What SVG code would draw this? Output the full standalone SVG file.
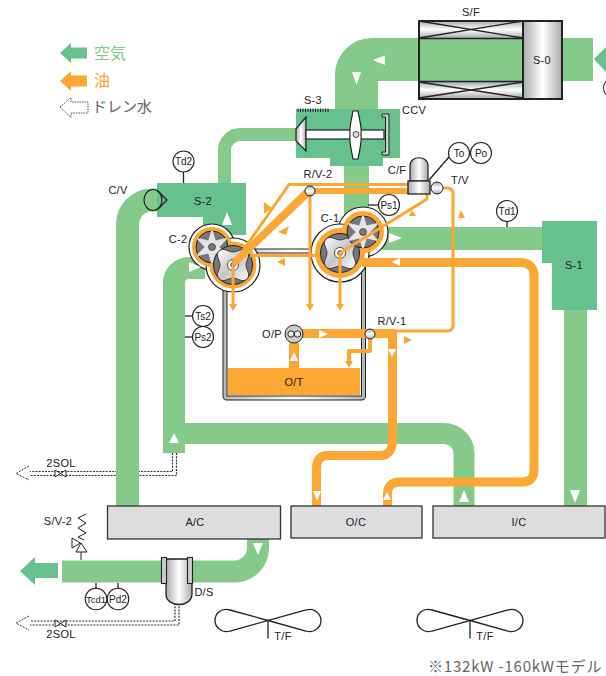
<svg xmlns="http://www.w3.org/2000/svg" width="606" height="676" viewBox="0 0 606 676">
<defs>
<linearGradient id="metal" x1="0" x2="1" y1="0" y2="0"><stop offset="0" stop-color="#a9abae"/><stop offset=".5" stop-color="#fff"/><stop offset="1" stop-color="#a9abae"/></linearGradient>
<linearGradient id="metalV" x1="0" x2="0" y1="0" y2="1"><stop offset="0" stop-color="#a9abae"/><stop offset=".5" stop-color="#fff"/><stop offset="1" stop-color="#a9abae"/></linearGradient>
<linearGradient id="metalD" x1="0" x2="1" y1="0" y2="1"><stop offset="0" stop-color="#fff"/><stop offset=".5" stop-color="#c4c5c7"/><stop offset="1" stop-color="#fff"/></linearGradient>
<linearGradient id="tankG" gradientUnits="userSpaceOnUse" x1="223" x2="366" y1="0" y2="0"><stop offset="0" stop-color="#b5b6b8"/><stop offset=".5" stop-color="#fff"/><stop offset="1" stop-color="#b5b6b8"/></linearGradient>
<g id="fan"><path d="M0 0L-38-10.500C-48-13-53-6-53 0C-53 7-46 13-38 10.500L38-10.500C46-13 53-7 53 0C53 7 46 13 38 10.500Z" class="ln"/><path d="M0 0V18" class="ln"/></g>
<g id="starRotor"><circle r="16" fill="#77787b" stroke="#222" stroke-width="1"/><path d="M0-15.500L3-5.200L13.400-7.750L6 0L13.400 7.750L3 5.200L0 15.500L-3 5.200L-13.400 7.750L-6 0L-13.400-7.750L-3-5.200Z" fill="#e4e5e6" stroke="#e4e5e6" stroke-width="2" stroke-linejoin="round"/><circle r="3.500" fill="#77787b" stroke="#222" stroke-width=".6"/></g>
<g id="lobeRotor"><circle r="19.500" fill="#77787b" stroke="#222" stroke-width="1"/><path d="M-14-14C-9-18-5-13 0-13C5-13 9-18 14-14C18-9 13-5 13 0C13 5 18 9 14 14C9 18 5 13 0 13C-5 13-9 18-14 14C-18 9-13 5-13 0C-13-5-18-9-14-14Z" fill="url(#metalD)" stroke="#222" stroke-width=".8"/><circle r="5.500" fill="#fff" stroke="#222" stroke-width=".8"/><circle r="2.500" fill="#999" stroke="#222" stroke-width=".6"/></g>
</defs>
<style>
.air{fill:none;stroke:#85c98b}
.oil{fill:none;stroke:#fca733}
.blk{fill:#66c18f}
.org{fill:#fca733}
.wht{fill:#fff}
.ln{fill:none;stroke:#222;stroke-width:1.300}
.box{fill:#dcddde;stroke:#333;stroke-width:1.300}
.gauge circle{fill:#fff;stroke:#222;stroke-width:1.100}
.gauge path{stroke:#222;stroke-width:1.300;fill:none}
.dr{fill:none;stroke:#333;stroke-width:1.200;stroke-dasharray:2 1.200}
text{font-family:"Liberation Sans",Arial,sans-serif;font-size:11px;fill:#222;text-anchor:middle;letter-spacing:.3px}
.g text{font-size:10px;letter-spacing:0}
.jp{font-family:"Noto Sans CJK JP","Liberation Sans",sans-serif;font-size:16px;text-anchor:start;letter-spacing:0}
</style>
<rect width="606" height="676" fill="#fff"/>

<g id="legend">
<path class="blk" d="M60 53L71 43V47.500H87V58.500H71V63Z"/>
<path class="org" d="M60 81L71 71V75.500H87V86.500H71V91Z"/>
<path d="M60 107L71 97.500V102H88V113H71V117.500Z" fill="#fff" stroke="#444" stroke-width=".9" stroke-dasharray="1.500 1"/>
<text class="jp" x="94" y="59" style="fill:#85c98b">空気</text>
<text class="jp" x="94" y="86" style="fill:#fca733">油</text>
<text class="jp" x="92" y="112" style="fill:#666;font-size:15px">ドレン水</text>
</g>

<g id="drains">
<path class="dr" d="M172.500 453V471.500H30M176.500 453V475.500H30"/>
<path class="dr" d="M175 603V621H30M179 603V625H30"/>
<path d="M29 466L16 473.500L29 480" fill="#fff" stroke="#333" stroke-width="1" stroke-dasharray="2 1.200"/>
<path d="M29 616L16 623L29 630" fill="#fff" stroke="#333" stroke-width="1" stroke-dasharray="2 1.200"/>
</g>

<g id="connectors-air" stroke-linejoin="round">
<path class="air" stroke-width="43" d="M418 59.500H372A15.500 15.500 0 0 0 356.500 75V120"/>
<path class="air" stroke-width="43" d="M562 59.500H593"/>
<path class="air" stroke-width="13" d="M300 134.500H240A15.500 15.500 0 0 0 224.500 150V190"/>
<path class="air" stroke-width="25" d="M356.500 160V235"/>
<path class="air" stroke-width="23" d="M160 200H152A24.500 24.500 0 0 0 127.500 224.500V506"/>
<path class="air" stroke-width="23" d="M350 238.500H550"/>
<path class="air" stroke-width="22" d="M205 268H189A15 15 0 0 0 174 283V452"/>
<path class="air" stroke-width="21" d="M175 433.500H444A20 20 0 0 1 464 453.500V506"/>
<path class="air" stroke-width="23" d="M575.500 305V506"/>
<path class="air" stroke-width="22" d="M258 538V548A23.500 23.500 0 0 1 234.500 571.500H62"/>
<rect x="163" y="423" width="22" height="30" fill="#85c98b"/>
</g>

<g id="S-3"><path class="blk" d="M296 109H400V158H383V166H330V158H296Z"/></g>
<g id="S-2"><path class="blk" d="M157 183H246V235H203V217H157Z"/></g>
<g id="S-1"><path class="blk" d="M542 221H597V310H552V263H542Z"/></g>
<path class="blk" d="M594 59L606 47V72Z"/>
<path class="blk" d="M20 571L35 557V563H58V578H35V585Z"/>

<g id="tank">
<rect x="225" y="251" width="138.500" height="147" fill="#fff" stroke="#222" stroke-width="5" rx="2"/>
<rect x="225" y="251" width="138.500" height="147" fill="none" stroke="url(#tankG)" stroke-width="3" rx="2"/>
<rect x="228" y="368" width="132" height="27" fill="#fca733"/>
<rect x="228" y="254" width="132" height="114" fill="#fff"/>
<text x="294" y="386">O/T</text>
</g>

<g id="shells" fill="#fff" stroke="#222" stroke-width="1.200">
<circle cx="212" cy="247" r="23"/><circle cx="233" cy="265" r="27"/>
<circle cx="363" cy="232" r="25"/><circle cx="340" cy="253" r="29"/>
</g>
<g id="oil-rings" fill="#fca733">
<circle cx="212" cy="247" r="20"/><circle cx="233" cy="265" r="23.500"/>
<circle cx="363" cy="232" r="21"/><circle cx="340" cy="253" r="25"/>
</g>
<g id="C-2"><use href="#starRotor" x="212" y="247"/><use href="#lobeRotor" x="233" y="265"/></g>
<g id="C-1"><use href="#lobeRotor" x="340" y="253"/><use href="#starRotor" x="363" y="232"/></g>

<g id="connectors-oil" stroke-linejoin="round">
<path class="oil" stroke-width="3" d="M408 184.500H289L233 265V305"/>
<path class="oil" stroke-width="6" d="M310 191H408"/>
<path class="org" d="M307 187L313 193L236 266L231 261Z"/>
<path class="oil" stroke-width="3" d="M250 255.500H316"/>
<path class="oil" stroke-width="3" d="M310 191V305"/>
<path class="oil" stroke-width="3" d="M427 193V199L340 253V305"/>
<path class="oil" stroke-width="3" d="M441 188H447Q453 188 453 194V325Q453 331 447 331H375"/>
<path class="oil" stroke-width="9" d="M295 333.500H392.500V440Q392.500 455.500 380 455.500H328Q316.500 455.500 316.500 468V506"/>
<path class="oil" stroke-width="10" d="M294 343V368"/>
<path class="oil" stroke-width="9" d="M362 262.500H520Q534 262.500 534 276V470Q534 482 522 482H400Q387.500 482 387.500 494V506"/>
<path class="oil" stroke-width="4" d="M370 338V351H349V362"/>
<path class="org" d="M229 304H237L233 311Z"/>
<path class="org" d="M306 304H314L310 311Z"/>
<path class="org" d="M336 304H344L340 311Z"/>
<path class="org" d="M345 361H353L349 368Z"/>
</g>

<g id="flow-arrows">
<path class="org" d="M264 202L272 208L264 214Z"/>
<path class="org" d="M289 226L286 235L278 232Z"/>
<path class="org" d="M277 262L285 258V266Z"/>
<path class="org" d="M409 216L416 216L412 210Z"/>
<path class="org" d="M458 218L461 210L465 218Z"/>
<path class="org" d="M404 336L412 340L404 344Z"/>
<path class="wht" d="M373 60L385 55.500V65Z"/>
<path class="wht" d="M352 72H361L356.500 85Z"/>
<path class="wht" d="M227 212L232 225H222Z"/>
<path class="wht" d="M189 262L201 267L189 272Z"/>
<path class="wht" d="M389 233L402 238L389 243Z"/>
<path class="wht" d="M392 262L400 258V266Z"/>
<path class="wht" d="M319 330L328 334L319 338Z"/>
<path class="wht" d="M388 349H396L392 357Z"/>
<path class="wht" d="M294 352L298 361H290Z"/>
<path class="wht" d="M174 433L179 443H169Z"/>
<path class="wht" d="M313 491H321L317 501Z"/>
<path class="wht" d="M387 492L391 500H383Z"/>
<path class="wht" d="M464 490L469 502H459Z"/>
<path class="wht" d="M570 490H580L575 503Z"/>
<path class="wht" d="M253 543H263L258 555Z"/>
</g>

<g id="S-F">
<rect x="419" y="21" width="104" height="77" fill="#85c98b"/>
<rect x="419" y="21" width="104" height="17" fill="url(#metalV)"/>
<rect x="419" y="82" width="104" height="16" fill="url(#metalV)"/>
<path class="ln" d="M419 21L523 38M419 38L523 21M419 82L523 98M419 98L523 82M419 38.500H523M419 81.500H523"/>
<rect x="419" y="21" width="143" height="78" fill="none" stroke="#222" stroke-width="2"/>
<text x="471" y="16">S/F</text>
</g>
<g id="S-0"><rect x="523" y="21" width="39" height="78" fill="url(#metal)" stroke="#222" stroke-width="2"/><text x="542" y="64">S-0</text></g>

<g id="CCV">
<path d="M298 108.500V112M300.500 108.500V112M303 108.500V112M305.500 108.500V112M308 108.500V112M310.500 108.500V112M313 108.500V112M315.500 108.500V112M318 108.500V112M320.500 108.500V112M323 108.500V112M325.500 108.500V112M328 108.500V112" stroke="#222" stroke-width="1"/>
<path d="M296 129L306 117V151L296 141Z" fill="url(#metal)" stroke="#222" stroke-width="1.200"/>
<rect x="306" y="130" width="78" height="9" fill="#fff" stroke="#222" stroke-width="1.200"/>
<path d="M353 111H358C360 122 362 128 361 134C362 142 360 148 358 159H353C351 148 349 142 350 134C349 128 351 122 353 111Z" fill="#fff" stroke="#222" stroke-width="1.200"/>
<circle cx="356" cy="134.500" r="3" fill="#ddd" stroke="#222" stroke-width=".8"/>
<path d="M382 114H389V155H382V152H385.500V117H382Z" fill="#ccc" stroke="#222" stroke-width="1"/>
<text x="313" y="104">S-3</text>
<text x="414" y="114">CCV</text>
</g>

<g id="C-V"><ellipse cx="153" cy="200" rx="9" ry="10.500" fill="none" stroke="#222" stroke-width="1.200"/><path class="ln" d="M158 191L167 200L158 209"/><text x="118" y="194">C/V</text></g>
<text id="S-2-label" x="203" y="205">S-2</text>
<text id="S-1-label" x="574" y="269">S-1</text>
<text id="C-2-label" x="178" y="243">C-2</text>
<text id="C-1-label" x="330" y="222">C-1</text>

<g id="C-F">
<path d="M410 181V166C410 155 428 155 428 166V181Z" fill="url(#metal)" stroke="#222" stroke-width="1.200"/>
<rect x="408" y="181" width="22" height="13" fill="url(#metal)" stroke="#222" stroke-width="1.300"/>
<path class="ln" d="M429 180L449 157"/>
<text x="397" y="174">C/F</text>
</g>
<g id="T-V"><circle cx="437" cy="188" r="6" fill="url(#metalV)" stroke="#222"/><text x="460" y="184">T/V</text></g>
<g id="R-V-2"><circle cx="310" cy="191" r="5" fill="url(#metalV)" stroke="#222"/><text x="318" y="178">R/V-2</text></g>
<g id="R-V-1"><circle cx="370" cy="334" r="5" fill="url(#metalV)" stroke="#222"/><text x="392" y="325">R/V-1</text></g>
<g id="O-P"><circle cx="294" cy="334" r="9" fill="#ccc" stroke="#222"/><circle cx="291" cy="334" r="3.200" fill="#eee" stroke="#222"/><circle cx="297.500" cy="334" r="3.200" fill="#eee" stroke="#222"/><text x="272" y="338">O/P</text></g>

<g id="gauges" class="gauge g">
<g id="Td2"><path d="M183.500 172V183"/><circle cx="183.500" cy="161.500" r="10.500"/><text x="183.500" y="165">Td2</text></g>
<g id="To"><circle cx="459" cy="153" r="10.500"/><text x="459" y="157">To</text></g>
<g id="Po"><circle cx="481" cy="153" r="10.500"/><text x="481" y="157">Po</text></g>
<g id="Ps1"><path d="M368 205H379"/><circle cx="389" cy="205" r="10.500"/><text x="389" y="209">Ps1</text></g>
<g id="Td1"><path d="M507 221V227"/><circle cx="507" cy="211" r="10.500"/><text x="507" y="215">Td1</text></g>
<g id="Ts2"><path d="M185 316H193"/><circle cx="203" cy="316" r="10.500"/><text x="203" y="320">Ts2</text></g>
<g id="Ps2"><path d="M185 337H193"/><circle cx="203" cy="337" r="10.500"/><text x="203" y="341">Ps2</text></g>
<g id="Tcd1"><path d="M96 583V589"/><circle cx="96" cy="599" r="10.800"/><text x="96" y="603" style="font-size:9.500px">Tcd1</text></g>
<g id="Pd2"><path d="M118 583V589"/><circle cx="118" cy="599" r="10.800"/><text x="118" y="603">Pd2</text></g>
<g id="edge-gauge"><circle cx="614" cy="88" r="10.500"/></g>
</g>

<g id="A-C"><rect class="box" x="107.500" y="506" width="173" height="33"/><text x="195" y="526">A/C</text></g>
<g id="O-C"><rect class="box" x="291" y="506" width="131" height="32"/><text x="356" y="526">O/C</text></g>
<g id="I-C"><rect class="box" x="433" y="506" width="172" height="32"/><text x="519" y="526">I/C</text></g>

<g id="D-S">
<path d="M166 559H192V594C192 608 166 608 166 594Z" fill="url(#metal)" stroke="#222" stroke-width="1.300"/>
<rect x="161.500" y="557.500" width="5" height="26" fill="#ccc" stroke="#222" stroke-width="1.100"/>
<rect x="187.500" y="557.500" width="5" height="26" fill="#ccc" stroke="#222" stroke-width="1.100"/>
<text x="204" y="596">D/S</text>
</g>

<g id="S-V-2">
<path class="ln" style="stroke-width:1" d="M86 514L78 518L86 523L78 528L86 533L78 537L84 540M81 543V560"/>
<path d="M72 538L80.500 543L72 548Z" fill="#fff" stroke="#222"/>
<path d="M81 543L87 552H76Z" fill="#fff" stroke="#222"/>
<text x="58" y="525">S/V-2</text>
</g>

<g id="valve-1"><path d="M55 470L66 477V470L55 477Z" fill="#fff" stroke="#222" stroke-width="1"/><text x="61" y="467">2SOL</text></g>
<g id="valve-2"><path d="M55 620L66 627V620L55 627Z" fill="#fff" stroke="#222" stroke-width="1"/><text x="61" y="638">2SOL</text></g>

<g id="fan-1"><use href="#fan" x="268" y="620.500"/><text x="283" y="640">T/F</text></g>
<g id="fan-2"><use href="#fan" x="470" y="620.500"/><text x="485" y="640">T/F</text></g>

<text x="428" y="672" class="jp" style="fill:#666;font-size:15px;letter-spacing:.8px">※132kW -160kWモデル</text>
</svg>
